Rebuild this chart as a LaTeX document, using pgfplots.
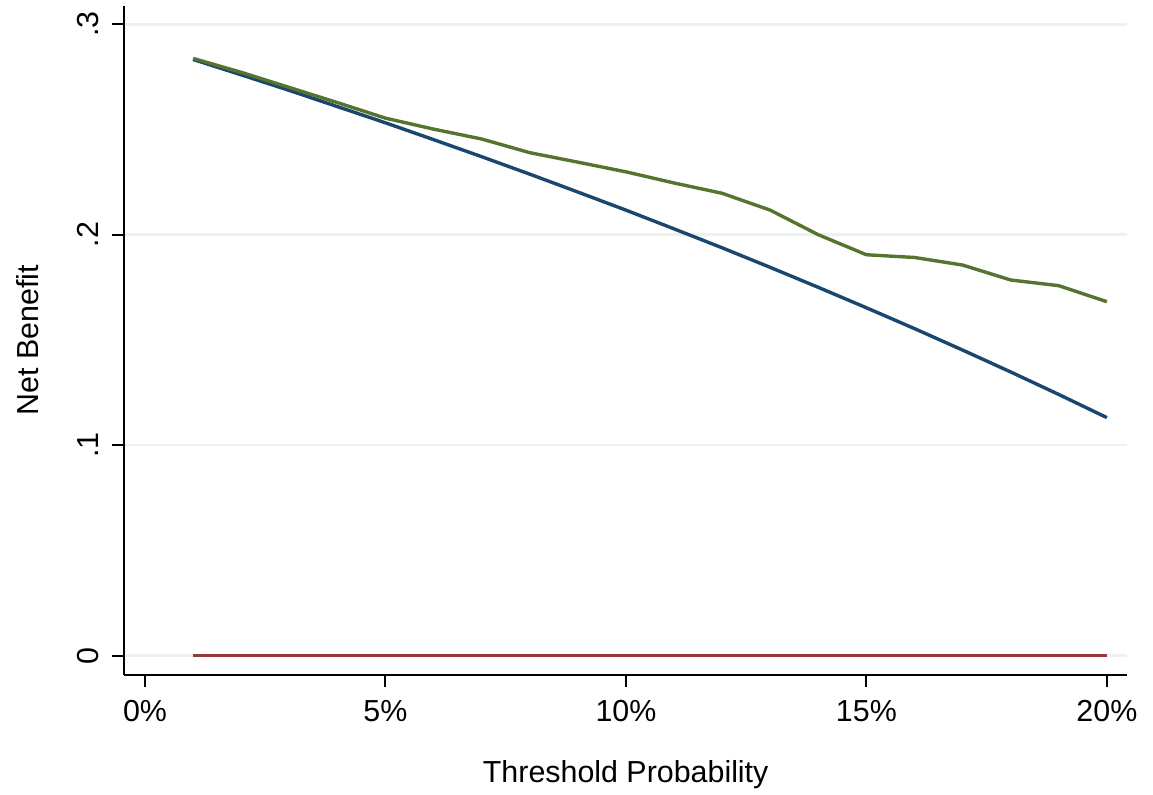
\documentclass[border=0pt]{standalone}
\usepackage{fontspec}
\setmainfont{Liberation Sans}
\usepackage{pgfplots}
\pgfplotsset{compat=1.18}
\definecolor{stnavy}{RGB}{26,71,111}
\definecolor{stmaroon}{RGB}{150,55,62}
\definecolor{stgreen}{RGB}{85,117,47}
\definecolor{stgrid}{RGB}{234,242,243}
\begin{document}
\fontsize{15.2}{18}\selectfont
\begin{tikzpicture}
\useasboundingbox (-62.15pt,-59.5pt) rectangle (514.35pt,337.5pt);
\begin{axis}[
  at={(0pt,0pt)}, anchor=south west,
  scale only axis, width=501.4pt, height=334.5pt,
  xmin=-0.0043, xmax=0.2042, ymin=-0.0092, ymax=0.3087,
  axis x line*=bottom, axis y line*=left,
  axis line style={line width=1pt, -},
  xtick={0,0.05,0.1,0.15,0.2},
  xticklabels={0\%,5\%,10\%,15\%,20\%},
  ytick={0,0.1,0.2,0.3},
  yticklabels={0,.1,.2,.3},
  tick align=outside, major tick length=6pt,
  tick style={line width=1pt, black},
  ymajorgrids, grid style={line width=1.3pt, stgrid},
  /pgf/number format/assume math mode=true,
  ticklabel style={font=\fontsize{15.2}{18}\selectfont},
  label style={font=\fontsize{15.2}{18}\selectfont},
  yticklabel style={rotate=90, anchor=south, inner sep=0pt},
  yticklabel shift=6.5pt,
  xticklabel style={inner sep=0pt, yshift=-6.5pt},
  xlabel={Threshold Probability},
  ylabel={Net Benefit},
  xlabel style={at={(axis description cs:0.5,0)}, anchor=base, yshift=-53.5pt},
  ylabel style={at={(axis description cs:0,0.5)}, anchor=base, yshift=43pt},
]
\addplot[stmaroon, line width=1.7pt] coordinates {(0.01,0) (0.20,0)};
\addplot[stnavy, line width=1.7pt] coordinates {
(0.01,0.2833) (0.02,0.2760) (0.03,0.2686) (0.04,0.2609) (0.05,0.2532)
(0.06,0.2452) (0.07,0.2371) (0.08,0.2288) (0.09,0.2203) (0.10,0.2117)
(0.11,0.2028) (0.12,0.1938) (0.13,0.1845) (0.14,0.1750) (0.15,0.1653)
(0.16,0.1554) (0.17,0.1452) (0.18,0.1348) (0.19,0.1241) (0.20,0.1131)};
\addplot[stgreen, line width=1.7pt] coordinates {
(0.01,0.2838) (0.02,0.2772) (0.03,0.2700) (0.04,0.2628) (0.05,0.2554)
(0.06,0.2502) (0.07,0.2455) (0.08,0.2390) (0.09,0.2345) (0.10,0.2299)
(0.11,0.2246) (0.12,0.2197) (0.13,0.2117) (0.14,0.2000) (0.15,0.1905)
(0.16,0.1892) (0.17,0.1856) (0.18,0.1785) (0.19,0.1758) (0.20,0.1682)};
\end{axis}
\end{tikzpicture}
\end{document}
